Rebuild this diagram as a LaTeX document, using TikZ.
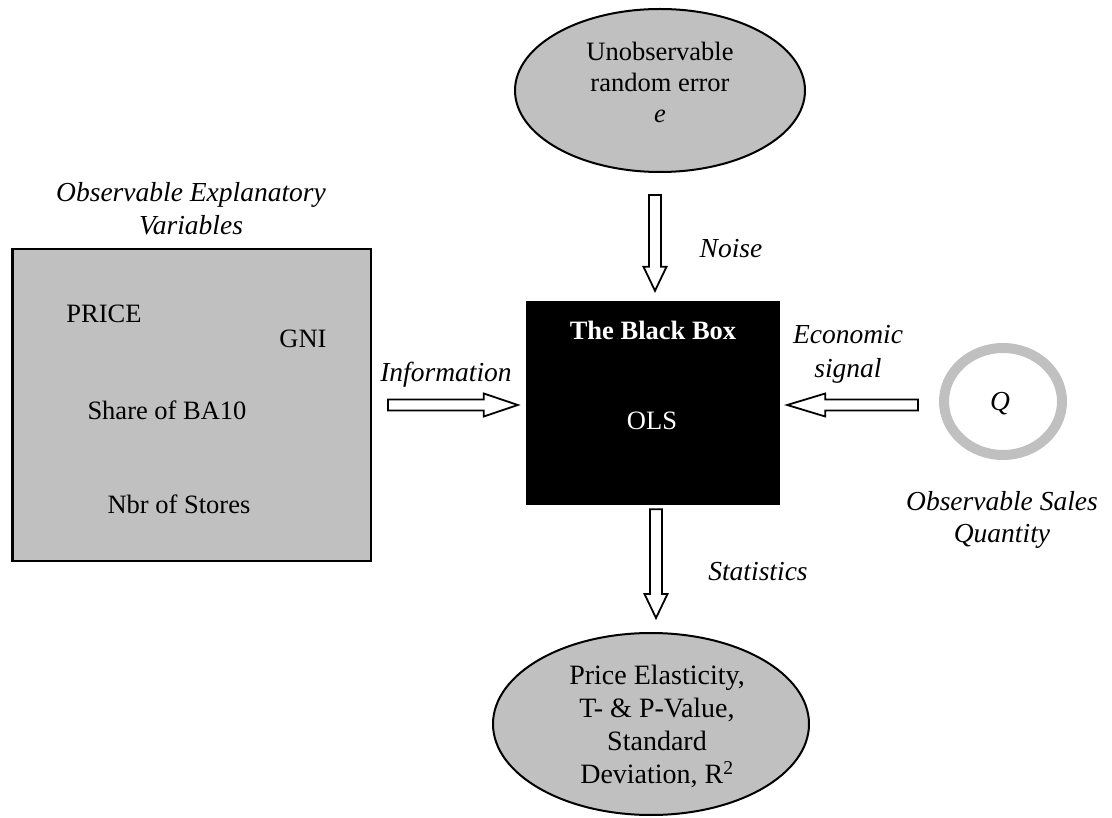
\documentclass[tikz,border=0pt]{standalone}
\usepackage{fontspec}
\setmainfont{Liberation Serif}
\usetikzlibrary{shapes.geometric,calc}
\definecolor{panelgray}{HTML}{C0C0C0}

% block arrow pointing down: #1 tail, #2 tip
\newcommand\fatdown[2]{%
  \draw[fatarrow] ($(#1)+(-6,0)$) -- ($(#1)+(6,0)$) -- ($(#2)+(6,-24)$)
    -- ($(#2)+(11.5,-24)$) -- (#2) -- ($(#2)+(-11.5,-24)$)
    -- ($(#2)+(-6,-24)$) -- cycle;}
% horizontal block arrow: #1 tail, #2 tip, #3 signed head length
\newcommand\fathoriz[3]{%
  \draw[fatarrow] ($(#1)+(0,-5.5)$) -- ($(#2)+(#3,-5.5)$) -- ($(#2)+(#3,-11.5)$)
    -- (#2) -- ($(#2)+(#3,11.5)$) -- ($(#2)+(#3,5.5)$)
    -- ($(#1)+(0,5.5)$) -- cycle;}

\tikzset{
  every node/.style={font=\fontsize{26.5}{33}\selectfont, inner sep=0pt},
  greybox/.style={draw=black, fill=panelgray, line width=2.5pt},
  greyoval/.style={ellipse, draw=black, fill=panelgray, line width=2pt},
  fatarrow/.style={draw=black, fill=white, line width=1.8pt, line join=miter},
  txt/.style={anchor=base},
  lbl/.style={anchor=base, font=\fontsize{27.5}{33}\selectfont\itshape},
}

\begin{document}
\begin{tikzpicture}[x=1pt,y=-1pt]
\useasboundingbox (0,0) rectangle (1112,818);

% unobservable error term
\node[greyoval, minimum width=290, minimum height=163] (err) at (660,90.5) {};
\node[align=center, font=\fontsize{26.5}{31}\selectfont] (errtxt) at (660,82)
  {Unobservable\\random error\\\textit{e}};

% explanatory variables panel
\node[greybox, minimum width=358.5, minimum height=311.5] (expl) at (191.5,405) {};
\node[align=center, font=\fontsize{27.5}{33}\selectfont\itshape] (expltitle) at (191,209)
  {Observable Explanatory\\Variables};
\node[txt] (price)  at (104,323) {PRICE};
\node[txt] (gni)    at (303,348) {GNI};
\node[txt] (share)  at (167,420) {Share of BA10};
\node[txt] (stores) at (179,513) {Nbr of Stores};

% the black box
\node[fill=black, minimum width=254, minimum height=204] (bb) at (653,403) {};
\node[txt, text=white, font=\fontsize{26.5}{33}\selectfont\bfseries] (bbtitle) at (653,340) {The Black Box};
\node[txt, text=white] (ols) at (652,430) {OLS};

% observable sales quantity
\node[ellipse, draw=panelgray, line width=10pt, minimum width=118, minimum height=107] (qc) at (1003,401.5) {};
\node[lbl] (qtxt) at (1000,410) {Q};
\node[align=center, font=\fontsize{27.5}{32}\selectfont\itshape] (qlabel) at (1002,520)
  {Observable Sales\\Quantity};

% estimation results
\node[greyoval, minimum width=316, minimum height=182] (res) at (651,724) {};
\node[align=center, font=\fontsize{28}{33}\selectfont] (restxt) at (657,726)
  {Price Elasticity,\\T- \& P-Value,\\Standard\\Deviation, R\textsuperscript{2}};

% arrow labels
\node[lbl] (noise) at (731,258) {Noise};
\node[lbl] (info) at (446,382) {Information};
\node[align=center, font=\fontsize{27.5}{34}\selectfont\itshape] (econ) at (848,354) {Economic\\signal};
\node[lbl] (stats) at (758,580) {Statistics};

% arrow end points
\coordinate (noiseTail) at ($(err.south)+(-5,22)$);
\coordinate (noiseTip)  at ($(bb.north)+(2,-10)$);
\coordinate (statTail)  at ($(bb.south)+(3,4)$);
\coordinate (statTip)   at ($(res.north)+(5,-14)$);
\coordinate (infoTail)  at ($(expl.east)+(16,0)$);
\coordinate (infoTip)   at ($(expl.east -| bb.west)+(-8,0)$);
\coordinate (econTail)  at ($(qc.west |- expl.east)+(-21,0)$);
\coordinate (econTip)   at ($(bb.east |- expl.east)+(7,0)$);

% block arrows
\fatdown{noiseTail}{noiseTip}
\fatdown{statTail}{statTip}
\fathoriz{infoTail}{infoTip}{-34}
\fathoriz{econTail}{econTip}{38}
\end{tikzpicture}
\end{document}
